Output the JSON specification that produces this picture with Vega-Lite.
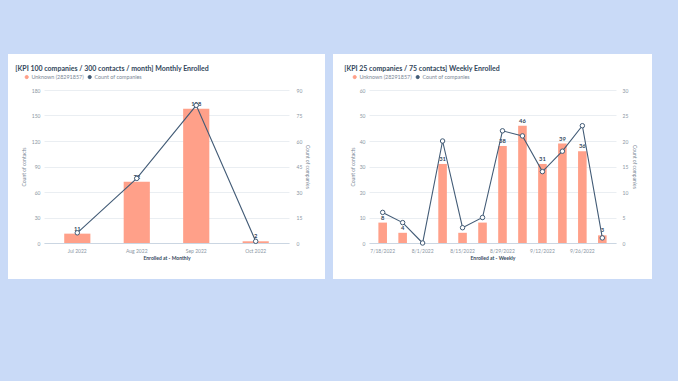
{
  "$schema": "https://vega.github.io/schema/vega-lite/v6.json",
  "background": "#c9daf7",
  "padding": {"left": -21, "top": 29, "right": 30, "bottom": 100},
  "spacing": -38,
  "resolve": {"scale": {"color": "independent"}, "legend": {"color": "independent"}},
  "datasets": {
    "monthly": [
      {"month": "Jul 2022", "contacts": 11, "companies": 6},
      {"month": "Aug 2022", "contacts": 72, "companies": 38},
      {"month": "Sep 2022", "contacts": 158, "companies": 81},
      {"month": "Oct 2022", "contacts": 2, "companies": 1}
    ],
    "weekly": [
      {"week": "7/18/2022", "contacts": 8, "companies": 6},
      {"week": "7/25/2022", "contacts": 4, "companies": 4},
      {"week": "8/1/2022", "contacts": 0, "companies": 0},
      {"week": "8/8/2022", "contacts": 31, "companies": 20},
      {"week": "8/15/2022", "contacts": 4, "companies": 3},
      {"week": "8/22/2022", "contacts": 8, "companies": 5},
      {"week": "8/29/2022", "contacts": 38, "companies": 22},
      {"week": "9/5/2022", "contacts": 46, "companies": 21},
      {"week": "9/12/2022", "contacts": 31, "companies": 14},
      {"week": "9/19/2022", "contacts": 39, "companies": 18},
      {"week": "9/26/2022", "contacts": 36, "companies": 23},
      {"week": "10/3/2022", "contacts": 3, "companies": 1}
    ]
  },
  "config": {
    "font": "Lato",
    "view": {"stroke": "#ffffff", "strokeWidth": 72, "fill": "#ffffff"},
    "axis": {"labelFont": "Lato", "labelFontSize": 5, "labelColor": "#8a96a3", "titleFont": "Lato", "titleFontSize": 5, "titleColor": "#7a8796", "titleFontWeight": "normal", "ticks": false, "domain": false, "grid": false, "labelOverlap": false},
    "legend": {"labelFont": "Lato", "labelFontSize": 5.4, "labelColor": "#7a8796"}
  },
  "hconcat": [
    {
      "width": 245,
      "height": 153,
      "data": {"name": "monthly"},
      "title": {"text": "[KPI 100 companies / 300 contacts / month] Monthly Enrolled", "anchor": "start", "frame": "bounds", "dx": -6, "offset": 2, "fontSize": 7, "fontWeight": "bold", "color": "#33475b", "font": "Lato"},
      "encoding": {
        "x": {"field": "month", "type": "nominal", "sort": null,
          "scale": {"paddingInner": 0.56, "paddingOuter": 0.34},
          "axis": {"labelAngle": 0, "labelPadding": 5, "domain": true, "domainColor": "#cbd6e2", "title": "Enrolled at - Monthly", "titleFontWeight": "bold", "titleColor": "#33475b", "titlePadding": 2}}
      },
      "layer": [
        {
          "encoding": {
            "y": {"field": "contacts", "type": "quantitative", "scale": {"domain": [0, 180]},
              "axis": {"title": "Count of contacts", "values": [0, 30, 60, 90, 120, 150, 180], "grid": true, "gridColor": "#eaeef2", "labelPadding": 4, "titlePadding": 5}}
          },
          "layer": [
            {
              "mark": {"type": "bar", "color": "#ffa089"},
              "encoding": {
                "color": {"datum": "Unknown (28291857)", "type": "nominal",
                  "scale": {"domain": ["Unknown (28291857)", "Count of companies"], "range": ["#ffa089", "#425b76"]},
                  "legend": {"title": null, "orient": "none", "direction": "horizontal", "legendX": -20, "legendY": -16, "symbolType": "circle", "symbolSize": 10, "symbolStrokeWidth": 1, "columnPadding": 2, "labelOffset": 2,
                    "encode": {"symbols": {"update": {"fill": {"signal": "datum.value === 'Count of companies' ? '#ffffff' : '#ffa089'"}, "stroke": {"signal": "datum.value === 'Count of companies' ? '#425b76' : '#ffa089'"}}}}}}
              }
            },
            {
              "mark": {"type": "text", "dy": -5, "fontSize": 5.8, "fontWeight": "bold", "color": "#33475b", "font": "Lato"},
              "encoding": {
                "text": {"field": "contacts", "type": "quantitative"}
              }
            }
          ]
        },
        {
          "mark": {"type": "line", "strokeWidth": 1.1, "point": {"filled": false, "fill": "#ffffff", "size": 20, "strokeWidth": 1}},
          "encoding": {
            "y": {"field": "companies", "type": "quantitative", "scale": {"domain": [0, 90]},
              "axis": {"orient": "right", "title": "Count of companies", "values": [0, 15, 30, 45, 60, 75, 90], "labelPadding": 7, "titlePadding": 3}},
            "color": {"datum": "Count of companies", "type": "nominal"}
          }
        }
      ],
      "resolve": {"scale": {"y": "independent"}}
    },
    {
      "width": 247,
      "height": 153,
      "data": {"name": "weekly"},
      "title": {"text": "[KPI 25 companies / 75 contacts] Weekly Enrolled", "anchor": "start", "frame": "bounds", "dx": -6, "offset": 2, "fontSize": 7, "fontWeight": "bold", "color": "#33475b", "font": "Lato"},
      "encoding": {
        "x": {"field": "week", "type": "nominal", "sort": null,
          "scale": {"paddingInner": 0.57, "paddingOuter": 0.47},
          "axis": {"labelAngle": 0, "labelPadding": 5, "domain": true, "domainColor": "#cbd6e2", "values": ["7/18/2022", "8/1/2022", "8/15/2022", "8/29/2022", "9/12/2022", "9/26/2022"], "title": "Enrolled at - Weekly", "titleFontWeight": "bold", "titleColor": "#33475b", "titlePadding": 2}}
      },
      "layer": [
        {
          "encoding": {
            "y": {"field": "contacts", "type": "quantitative", "scale": {"domain": [0, 60]},
              "axis": {"title": "Count of contacts", "values": [0, 10, 20, 30, 40, 50, 60], "grid": true, "gridColor": "#eaeef2", "labelPadding": 4, "titlePadding": 4}}
          },
          "layer": [
            {
              "mark": {"type": "bar", "color": "#ffa089"},
              "encoding": {
                "color": {"datum": "Unknown (28291857)", "type": "nominal",
                  "scale": {"domain": ["Unknown (28291857)", "Count of companies"], "range": ["#ffa089", "#425b76"]},
                  "legend": {"title": null, "orient": "none", "direction": "horizontal", "legendX": -17, "legendY": -16, "symbolType": "circle", "symbolSize": 10, "symbolStrokeWidth": 1, "columnPadding": 2, "labelOffset": 2,
                    "encode": {"symbols": {"update": {"fill": {"signal": "datum.value === 'Count of companies' ? '#ffffff' : '#ffa089'"}, "stroke": {"signal": "datum.value === 'Count of companies' ? '#425b76' : '#ffa089'"}}}}}}
              }
            },
            {
              "transform": [{"filter": "datum.contacts > 0"}],
              "mark": {"type": "text", "dy": -5, "fontSize": 5.8, "fontWeight": "bold", "color": "#33475b", "font": "Lato"},
              "encoding": {
                "text": {"field": "contacts", "type": "quantitative"}
              }
            }
          ]
        },
        {
          "mark": {"type": "line", "strokeWidth": 1.1, "point": {"filled": false, "fill": "#ffffff", "size": 20, "strokeWidth": 1}},
          "encoding": {
            "y": {"field": "companies", "type": "quantitative", "scale": {"domain": [0, 30]},
              "axis": {"orient": "right", "title": "Count of companies", "values": [0, 5, 10, 15, 20, 25, 30], "labelPadding": 6, "titlePadding": 4}},
            "color": {"datum": "Count of companies", "type": "nominal"}
          }
        }
      ],
      "resolve": {"scale": {"y": "independent"}}
    }
  ]
}
